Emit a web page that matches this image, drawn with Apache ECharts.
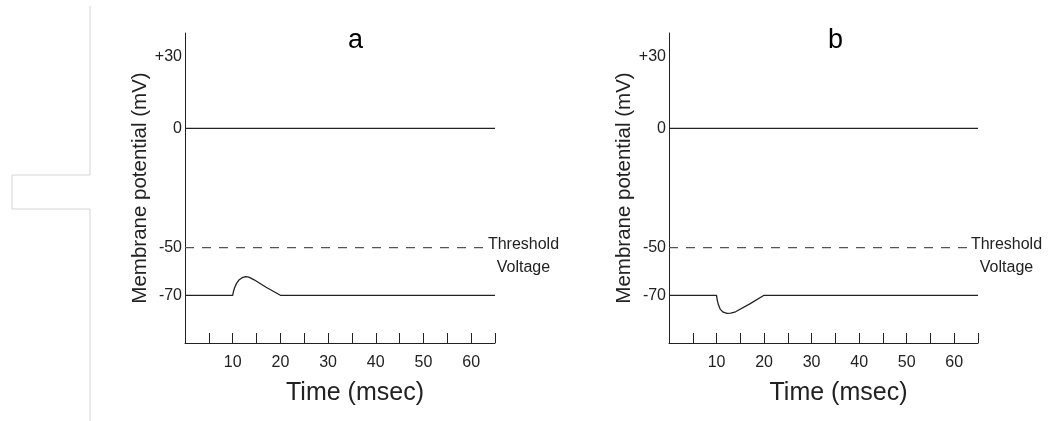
<!DOCTYPE html>
<html>
<head>
<meta charset="utf-8">
<script src="https://cdn.jsdelivr.net/npm/echarts@6/dist/echarts.min.js"></script>
<style>
  html, body { margin: 0; padding: 0; background: #fff; }
  #chart { width: 1054px; height: 421px; }
</style>
</head>
<body>
<div id="chart"></div>
<script>
// data
const panelTitles = ['a', 'b'];
const xLabelValues = [10, 20, 30, 40, 50, 60];
const yLabelValues = [30, 0, -50, -70];
const zeroLevel = 0;
const thresholdLevel = -50;
const thresholdEnd = 63;
const timeEnd = 65;

// a: depolarising (sub-threshold) response
const timeA = [0, 10, 10.15, 10.4, 10.8, 11.3, 12, 12.7, 13.4, 14.5, 17, 20, 65];
const vmA = [-70, -70, -68.5, -66.8, -65, -63.6, -62.6, -62.2, -62.4, -63.5, -66.6, -70, -70];

// b: hyperpolarising response
const timeB = [0, 10, 10.15, 10.4, 10.8, 11.4, 12.2, 13, 14, 17, 20, 65];
const vmB = [-70, -70, -72, -74, -75.9, -77.1, -77.6, -77.5, -76.9, -73.6, -70, -70];

const font = 'Liberation Sans, Arial, Helvetica, sans-serif';
const ink = '#222';

function pairs(xs, ys) {
  return xs.map((x, i) => [x, ys[i]]);
}

const grids = [
  { left: 185, top: 33, width: 310, height: 310 },
  { left: 669, top: 33, width: 309, height: 310 }
];

function xAxisFor(i) {
  return {
    type: 'value',
    gridIndex: i,
    min: 0,
    max: timeEnd,
    interval: 5,
    name: 'Time (msec)',
    nameLocation: 'middle',
    nameGap: 38,
    nameTextStyle: { fontFamily: font, fontSize: 25, color: ink, padding: [0, 0, 0, 30] },
    axisLine: { onZero: false, lineStyle: { color: ink, width: 1 } },
    axisTick: { inside: true, length: 10, lineStyle: { color: ink } },
    splitLine: { show: false },
    axisLabel: {
      margin: 12,
      fontFamily: font,
      fontSize: 16,
      color: ink,
      formatter: v => (xLabelValues.indexOf(v) >= 0 ? String(v) : '')
    }
  };
}

function yAxisFor(i) {
  return {
    type: 'value',
    gridIndex: i,
    min: -90,
    max: 40,
    interval: 10,
    name: 'Membrane potential (mV)',
    nameLocation: 'middle',
    nameRotate: 90,
    nameGap: 29,
    nameTextStyle: { fontFamily: font, fontSize: 20.5, color: ink, padding: [0, 0, 0, 0] },
    axisLine: { onZero: false, lineStyle: { color: ink, width: 1 } },
    axisTick: { show: false },
    splitLine: { show: false },
    axisLabel: {
      margin: 3,
      fontFamily: font,
      fontSize: 16,
      color: ink,
      formatter: v => {
        if (yLabelValues.indexOf(v) < 0) return '';
        return v > 0 ? '+' + v : String(v);
      }
    }
  };
}

function seriesFor(i, xs, ys) {
  return [
    {
      type: 'line',
      xAxisIndex: i,
      yAxisIndex: i,
      data: [[0, zeroLevel], [timeEnd, zeroLevel]],
      showSymbol: false,
      lineStyle: { color: ink, width: 1.2 }
    },
    {
      type: 'line',
      xAxisIndex: i,
      yAxisIndex: i,
      data: [[0, thresholdLevel], [thresholdEnd, thresholdLevel]],
      showSymbol: false,
      lineStyle: { color: '#555', width: 1.2, type: [9, 8] },
      endLabel: {
        show: true,
        formatter: 'Threshold\nVoltage',
        align: 'center',
        distance: 0,
        offset: [38, 8],
        fontFamily: font,
        fontSize: 16,
        lineHeight: 23,
        color: ink
      }
    },
    {
      type: 'line',
      xAxisIndex: i,
      yAxisIndex: i,
      data: pairs(xs, ys),
      showSymbol: false,
      lineStyle: { color: ink, width: 1.3 }
    }
  ];
}

const chart = echarts.init(document.getElementById('chart'), null, { renderer: 'canvas' });
chart.setOption({
  animation: false,
  backgroundColor: '#fff',
  title: [
    { text: panelTitles[0], left: 343, top: 22, textStyle: { fontFamily: font, fontSize: 27, fontWeight: 'normal', color: '#000' } },
    { text: panelTitles[1], left: 823, top: 22, textStyle: { fontFamily: font, fontSize: 27, fontWeight: 'normal', color: '#000' } }
  ],
  grid: grids,
  xAxis: [xAxisFor(0), xAxisFor(1)],
  yAxis: [yAxisFor(0), yAxisFor(1)],
  series: seriesFor(0, timeA, vmA).concat(seriesFor(1, timeB, vmB)),
  graphic: [
    {
      type: 'polyline',
      shape: { points: [[90, 6], [90, 175], [12, 175], [12, 209], [90, 209], [90, 421]] },
      style: { stroke: '#d4d4d4', lineWidth: 1, fill: null }
    }
  ]
});
</script>
</body>
</html>
